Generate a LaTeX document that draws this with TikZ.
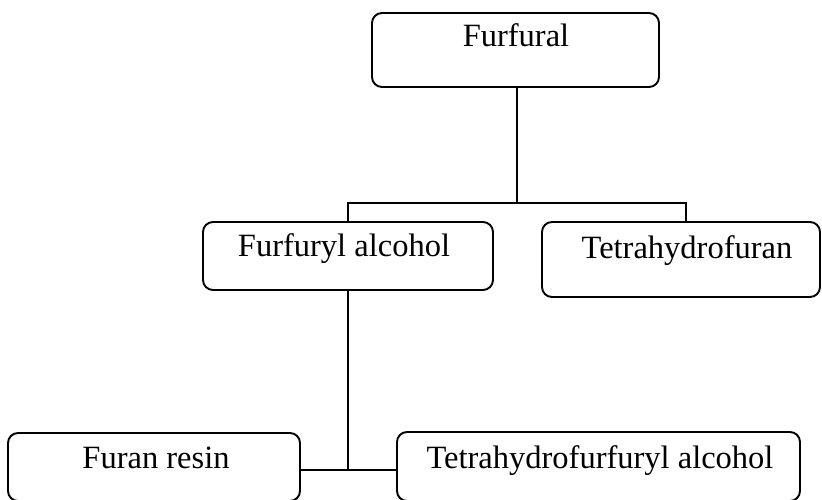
\documentclass[tikz,border=0pt]{standalone}
\usepackage{fontspec}
\setmainfont{Liberation Serif}
\begin{document}
\begin{tikzpicture}[x=1pt,y=-1pt,
  box/.style={draw=black, line width=1.9pt, rounded corners=10pt, rectangle, inner sep=0pt},
  lbl/.style={anchor=base, inner sep=0pt, font=\fontsize{32.5}{39}\selectfont},
  conn/.style={draw=black, line width=1.9pt}]
\useasboundingbox (0,0) rectangle (822,500);
% boxes
\node[box, minimum width=287pt, minimum height=74pt] (furfural) at (515.5,50) {};
\node[box, minimum width=290pt, minimum height=68pt] (falc) at (348,256) {};
\node[box, minimum width=278pt, minimum height=75pt] (thf) at (681,259.5) {};
\node[box, minimum width=292pt, minimum height=68pt] (resin) at (154,467) {};
\node[box, minimum width=403pt, minimum height=69pt] (thfa) at (598.5,466.5) {};
% texts
\node[lbl] (tfurfural) at (516,47) {Furfural};
\node[lbl] (tfalc) at (344,256) {Furfuryl alcohol};
\node[lbl] (tthf) at (687,258) {Tetrahydrofuran};
\node[lbl] (tresin) at (156,468) {Furan resin};
\node[lbl] (tthfa) at (600,468) {Tetrahydrofurfuryl alcohol};
% connectors
\coordinate (barT) at (517,203);
\coordinate (barL) at (348,203);
\coordinate (barR) at (686,203);
\coordinate (jb) at (348,470);
\draw[conn] (furfural.south -| barT) -- (barT);
\draw[conn] (falc.north) -- (barL) -- (barR) -- (barR |- thf.north);
\draw[conn] (falc.south) -- (jb);
\draw[conn] (resin.east |- jb) -- (thfa.west |- jb);
\end{tikzpicture}
\end{document}
